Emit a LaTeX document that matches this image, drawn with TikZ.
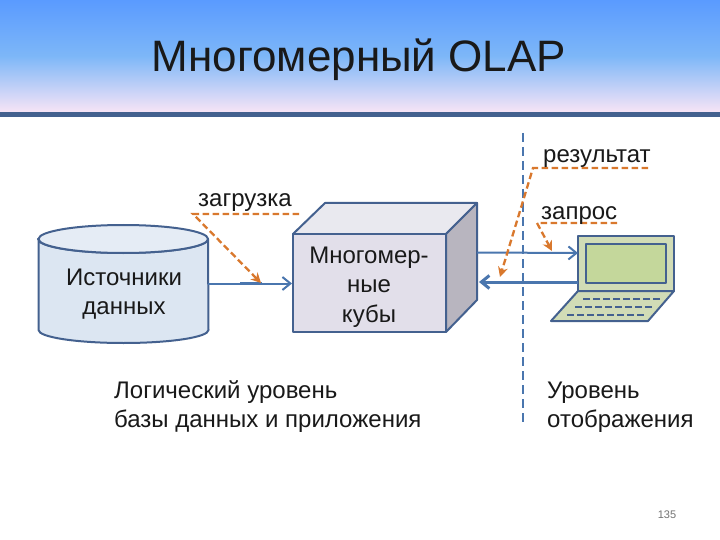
\documentclass[tikz,border=0pt]{standalone}
\usepackage{fontspec}
\setmainfont{Liberation Sans}
\usetikzlibrary{arrows.meta}
\definecolor{linec}{HTML}{44618F}
\definecolor{flowc}{HTML}{4A76AE}
\definecolor{orangec}{HTML}{D9782D}
\definecolor{cylf}{HTML}{DCE6F2}
\definecolor{cubef}{HTML}{E2DFEA}
\definecolor{cubet}{HTML}{E9E9EF}
\definecolor{cubes}{HTML}{B8B5BF}
\definecolor{lapf}{HTML}{D1DCB6}
\definecolor{scrf}{HTML}{C4D79B}
\tikzset{
 x=1pt,y=-1pt,
 shapeline/.style={draw=linec,line width=2pt,line join=round},
 flow/.style={draw=flowc,line width=2pt,-{Straight Barb[length=8pt,width=13pt]}},
 orangedash/.style={draw=orangec,line width=2.3pt,dash pattern=on 6.5pt off 3.5pt,-{Stealth[length=10pt,width=10pt]}},
 lab/.style={font=\fontsize{24}{29}\selectfont,inner sep=0pt,text=black!90},
 keyrow/.style={draw=linec,line width=1.8pt,dash pattern=on 7pt off 3pt},
}
\begin{document}
\begin{tikzpicture}
\useasboundingbox (0,0) rectangle (720,540);
\fill[white] (0,0) rectangle (720,540);
\fill[top color={rgb,255:red,90;green,155;blue,255},bottom color={rgb,255:red,247;green,228;blue,246},middle color={rgb,255:red,125;green,183;blue,248}] (0,0) rectangle (720,112);
\fill[linec] (0,112) rectangle (720,117);
\node[inner sep=0pt,anchor=base,font=\fontsize{44}{50}\selectfont,text=black!90] (title) at (359,72) {Многомерный OLAP};
% cylinder
\path[shapeline,fill=cylf] (38.5,239) -- (38.5,330) arc[start angle=180,end angle=360,x radius=85,y radius=-13] -- (208,239) arc[start angle=0,end angle=180,x radius=85,y radius=14] -- cycle;
\path[shapeline,fill=cylf!75!white] (123.3,239) ellipse[x radius=84.8,y radius=14];
\coordinate (cylE) at (208,283.5);
\node[lab,align=center] (src) at (124,294.5) {Источники\\данных};
% cube
\coordinate (cA) at (293,234); \coordinate (cB) at (446,234); \coordinate (cC) at (446,332); \coordinate (cD) at (293,332);
\coordinate (cE) at (325,203); \coordinate (cF) at (477,203); \coordinate (cG) at (477,300);
\path[shapeline,fill=cubet] (cA)--(cE)--(cF)--(cB)--cycle;
\path[shapeline,fill=cubes] (cB)--(cF)--(cG)--(cC)--cycle;
\path[shapeline,fill=cubef] (cA)--(cB)--(cC)--(cD)--cycle;
\coordinate (cubeW) at (292,283.5);
\coordinate (cubeR1) at (477,252.5);
\coordinate (cubeR2) at (479,282);
\node[lab,align=center,font=\fontsize{24}{29.5}\selectfont] (cube) at (369,287) {Многомер-\\ные\\кубы};
% laptop
\coordinate (s1) at (578,236); \coordinate (s2) at (674,236); \coordinate (s3) at (674,291); \coordinate (s4) at (578,291);
\path[shapeline,fill=lapf] (s4)--(s3)--(648,321)--(551,321)--cycle;
\path[shapeline,fill=lapf] (s1)--(s2)--(s3)--(s4)--cycle;
\path[shapeline,fill=scrf] (586,244) rectangle (666,283);
\draw[keyrow] (583,299) -- (662,299);
\draw[keyrow] (575,307) -- (654,307);
\draw[keyrow] (567,315) -- (646,315);
\coordinate (lapW) at (578,253);
\coordinate (lapW2) at (578,282);
% flows
\draw[flow] (cylE) -- (cubeW);
\draw[draw=flowc,line width=3.2pt] (240,283.5) -- (262,283.5);
\draw[flow] (cubeR1) -- (lapW);
\draw[flow,line width=3pt] (lapW2) -- (cubeR2);
% vertical
\coordinate (v1) at (523,133); \coordinate (v2) at (523,425);
\draw[draw=flowc,line width=2pt,dash pattern=on 9pt off 5pt] (v1) -- (v2);
% orange
\coordinate (o1a) at (299,214); \coordinate (o1b) at (193,214); \coordinate (o1c) at (261,283);
\coordinate (o2a) at (648,168); \coordinate (o2b) at (533,168); \coordinate (o2c) at (500,277);
\coordinate (o3a) at (617,223); \coordinate (o3b) at (537,223); \coordinate (o3c) at (552,251);
\draw[orangedash] (o1a) -- (o1b) -- (o1c);
\draw[orangedash] (o2a) -- (o2b) -- (o2c);
\draw[orangedash] (o3a) -- (o3b) -- (o3c);
% labels
\node[lab,anchor=base west] (zagr) at (198,207) {загрузка};
\node[lab,anchor=base west] (res) at (543,163) {результат};
\node[lab,anchor=base west] (zap) at (541,219) {запрос};
\node[lab,anchor=base west,align=left] (log1) at (114,398) {Логический уровень};
\node[lab,anchor=base west,align=left] (log2) at (114,427) {базы данных и приложения};
\node[lab,anchor=base west] (ur1) at (547,398) {Уровень};
\node[lab,anchor=base west] (ur2) at (547,427) {отображения};
\node[inner sep=0pt,anchor=base,font=\fontsize{11}{13}\selectfont,text=black!55] (num) at (667,518) {135};
\end{tikzpicture}
\end{document}
